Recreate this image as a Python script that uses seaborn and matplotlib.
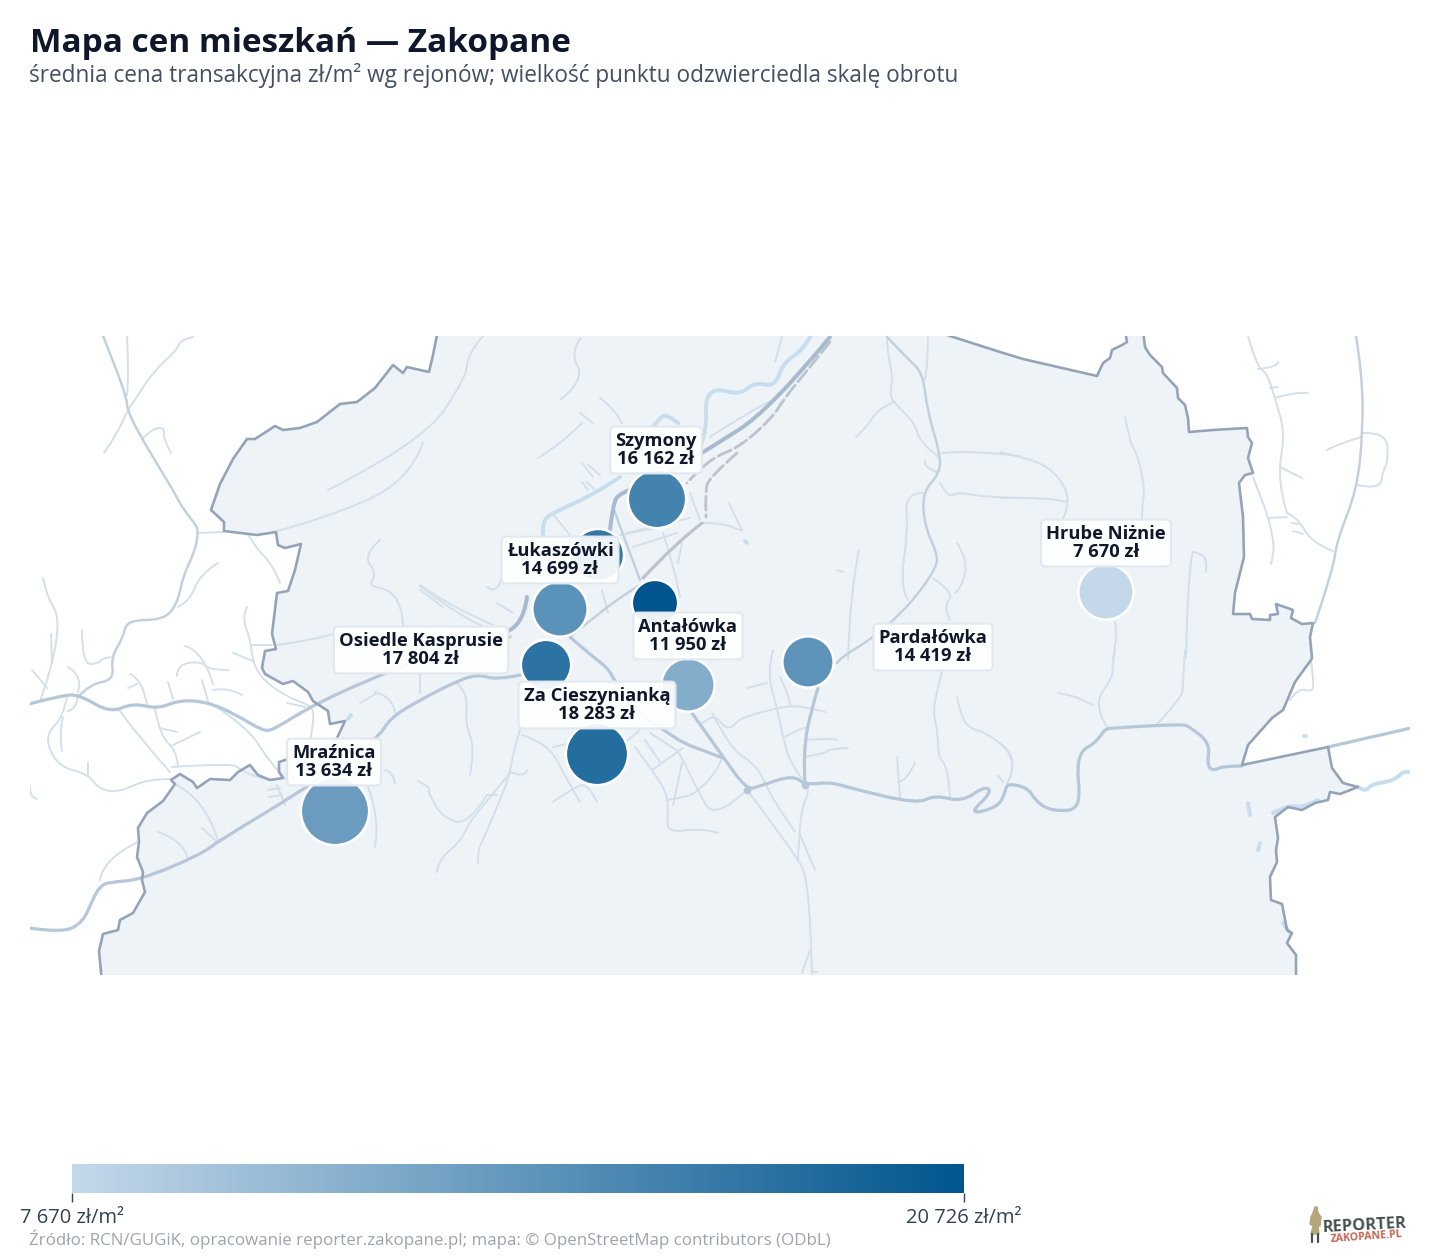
import matplotlib
matplotlib.use("Agg")
import matplotlib.pyplot as plt
from matplotlib.colors import LinearSegmentedColormap, Normalize
from matplotlib.colorbar import ColorbarBase
from matplotlib.path import Path
from matplotlib.patches import PathPatch
import pandas as pd
import seaborn as sns

sns.set_theme(style="white")
plt.rcParams['font.family'] = ['Open Sans', 'DejaVu Sans']

# ---------- data ----------
rejony = ["Mraźnica", "Za Cieszynianką", "Szymony", "Łukaszówki", "Hrube Niżnie",
          "Pardałówka", "Antałówka", "Osiedle Kasprusie", "", ""]
ceny = [13634, 18283, 16162, 14699, 7670, 14419, 11950, 17804, 20726, 17200]
map_x = [335, 597, 657, 560, 1106, 808, 688, 546, 655, 598]
map_y = [811, 754, 499, 609, 592, 662, 685, 665, 603, 555]
obrot = [1170, 973, 853, 767, 767, 660, 713, 635, 538, 680]
etykiety_x = [334, 597, 656, 560, 1106, 933, 688, 421]
etykiety_y = [762, 705, 450, 560, 543, 647, 636, 650]
cena_min, cena_max = 7670, 20726

granica = [(438,330),(433,355),(429,372),(407,367),(403,373),(393,365),(375,388),(357,402),(340,404),(317,422),(300,428),(283,430),(275,426),(255,439),(247,439),(233,459),(220,484),(211,510),(224,522),(224,531),(257,535),(276,532),(278,545),(285,548),(301,544),(295,570),(288,591),(277,593),(272,634),(276,649),(265,651),(262,668),(265,674),(283,684),(293,681),(308,692),(313,701),(328,711),(330,724),(345,721),(337,738),(330,748),(300,755),(285,760),(279,762),(279,772),(283,778),(270,780),(258,775),(250,765),(238,772),(230,780),(210,779),(197,788),(193,782),(180,774),(171,780),(175,784),(163,801),(147,813),(138,828),(139,842),(137,857),(143,872),(142,880),(145,892),(133,913),(120,920),(118,930),(103,934),(99,951),(102,982),
          (1296,982),(1296,955),(1287,943),(1292,933),(1287,930),(1282,904),(1271,900),(1270,877),(1277,862),(1276,850),(1278,838),(1275,817),(1288,807),(1302,810),(1315,803),(1328,800),(1330,792),(1340,794),(1358,787),(1343,783),(1332,768),(1328,747),(1242,765),(1248,745),(1272,718),(1283,710),(1295,682),(1311,660),(1312,658),(1310,637),(1313,623),(1302,624),(1291,618),(1293,610),(1276,604),(1278,614),(1270,615),(1270,620),(1252,619),(1250,614),(1233,614),(1235,593),(1244,557),(1243,517),(1239,483),(1245,475),(1253,473),(1248,458),(1252,443),(1248,437),(1247,428),(1213,430),(1189,432),(1188,418),(1185,405),(1178,398),(1177,388),(1163,373),(1162,367),(1150,355),(1145,347),(1143,330),
          (1125,330),(1127,342),(1122,345),(1112,350),(1110,358),(1103,363),(1097,376),(1023,359),(1000,352),(950,336),(935,330)]

drogi_krajowe = [
 [(830,337),(770,410),(707,450),(660,478),(620,493),(613,503),(610,530)],
 [(505,632),(523,627),(527,597)],
]
drogi_glowne = [
 [(29,704),(63,695),(80,695),(110,713),(133,703),(157,709),(180,700),(207,702),(233,713),(263,731),(273,730),(313,705),(373,678),(430,655),(495,638),(510,637)],
 [(29,928),(63,933),(83,922),(92,901),(100,886),(110,882),(140,880),(200,855),(220,840),(300,792),(377,740),(390,718),(420,700),(453,683),(477,674),(497,680),(520,675)],
 [(570,637),(593,657),(608,668),(615,682),(640,715),(667,732),(683,743),(707,752),(723,758)],
 [(692,713),(723,757),(747,790),(760,786),(793,775),(805,785),(830,782),(850,788),(917,804),(935,795),(962,802),(985,786),(992,792),(968,815),(998,807),(1005,793),(1007,783),(1028,788),(1035,800),(1047,809),(1063,811),(1075,809),(1080,797),(1077,767),(1082,750),(1092,745),(1100,737),(1105,729),(1112,728),(1182,724),(1190,727),(1210,743),(1207,765),(1213,771),(1223,766),(1242,766)],
 [(1328,747),(1411,728)],
 [(818,688),(812,707),(803,750),(805,783)],
]
drogi_srednie = [
 [(837,663),(840,658),(873,638),(910,605),(937,567),(937,553),(925,527),(922,493),(940,473),(940,453),(927,410),(923,373),(907,358),(887,337)],
 [(103,336),(127,395),(127,413),(163,474),(173,490),(183,509),(197,526),(198,534),(195,551),(183,576),(177,605),(163,620),(127,620),(123,638),(111,657),(114,680),(90,684),(78,697)],
 [(1356,336),(1362,373),(1363,430),(1357,490),(1337,540),(1333,570),(1315,623)],
 [(614,510),(640,580)],
 [(570,637),(603,610),(627,593),(643,583)],
]
drogi_male = [
 [(198,533),(223,532)],[(127,336),(129,376),(127,395)],
 [(193,337),(180,340),(178,349),(153,372),(137,397),(127,411),(117,434),(104,453)],
 [(142,439),(153,428),(165,428),(163,438),(171,453)],
 [(218,563),(200,574),(190,601),(178,607)],[(248,534),(255,547),(273,565),(280,583)],
 [(43,578),(47,597),(60,617),(52,668),(40,701)],[(51,634),(52,663)],[(32,670),(47,688)],
 [(82,630),(82,665),(100,663),(100,659),(111,657)],[(68,667),(83,676),(78,692)],
 [(67,697),(63,717),(48,732),(48,747),(60,767),(88,774),(100,790),(120,792),(147,779),(170,779)],
 [(63,717),(59,732),(62,751)],[(78,695),(77,709),(68,711)],[(88,763),(88,774)],
 [(120,711),(133,730),(170,772)],[(155,709),(160,736),(177,751),(178,767)],[(160,728),(177,732)],
 [(173,745),(200,732)],[(172,767),(233,763),(240,770),(260,778),(270,780)],
 [(130,674),(143,680),(147,705)],[(128,688),(137,684)],[(185,646),(203,651),(213,684)],
 [(177,676),(177,665),(200,661),(210,670),(228,670)],[(168,682),(173,699)],[(202,680),(208,701)],
 [(213,690),(228,687),(242,695)],
 [(247,607),(242,617),(250,638),(253,663),(263,680),(287,697),(310,705),(315,715),(310,742)],
 [(252,645),(272,645)],[(233,653),(253,661)],[(213,705),(247,726),(270,763),(287,780)],
 [(287,703),(305,707)],[(268,790),(280,788)],[(268,797),(282,795)],[(285,805),(277,785)],
 [(175,784),(205,799),(218,840)],[(158,832),(183,840),(188,859)],[(202,828),(217,842)],
 [(138,842),(103,859),(100,880)],[(30,786),(29,797),(37,799)],
 [(328,490),(423,442),(467,376),(467,355),(483,336)],
 [(277,531),(320,520),(410,482),(423,442)],
 [(380,540),(363,555),(377,574),(368,586),(392,590),(403,613),(403,626)],
 [(277,645),(313,640),(333,634)],[(420,586),(463,620),(500,634)],[(420,590),(443,607)],
 [(375,692),(393,697),(395,713)],[(360,703),(377,693)],[(420,675),(420,693)],
 [(457,683),(468,693),(465,723),(475,748),(470,775)],[(385,770),(393,772),(395,783)],
 [(368,787),(380,818),(375,847)],
 [(418,781),(430,787),(428,793),(443,818),(468,825),(487,795)],
 [(510,773),(500,785),(477,813),(468,825),(460,842),(438,860),(437,872)],
 [(520,730),(513,753),(510,773),(503,793),(483,840),(478,850),(478,863)],
 [(487,795),(497,795)],[(510,772),(525,778),(527,770)],
 [(522,735),(548,743),(567,780),(580,802)],[(553,802),(573,788),(588,783),(597,802)],[(553,747),(567,744)],
 [(628,740),(640,730)],
 [(635,747),(652,770),(667,793),(668,813),(667,833),(702,828),(718,833)],
 [(650,733),(672,747),(680,753),(697,790),(715,820),(747,790)],
 [(652,770),(683,748)],[(645,740),(660,762)],[(682,763),(673,805)],
 [(667,800),(680,798),(697,793),(720,767),(722,757)],
 [(700,725),(713,713),(725,728),(733,727),(740,718),(777,708),(800,705),(825,712)],
 [(712,713),(730,748),(753,763),(763,778),(773,800),(795,832)],
 [(747,688),(767,683)],[(773,650),(767,673),(777,707),(785,747),(793,767),(803,780)],
 [(780,677),(790,697),(790,705)],[(785,737),(802,727),(807,728)],[(805,740),(830,738),(837,740)],
 [(805,757),(827,753),(828,749),(848,748)],
 [(807,785),(809,793),(802,807),(799,837),(798,860)],
 [(747,790),(795,853),(810,883),(812,975)],[(810,950),(802,973)],[(800,835),(815,870)],[(812,972),(818,972)],
 [(942,672),(937,690),(933,713),(938,733),(938,757),(948,767),(950,797)],
 [(897,757),(900,798)],[(898,782),(908,780),(915,762)],
 [(957,697),(960,712),(968,728),(985,732),(1012,752),(1013,773),(1007,783)],[(998,775),(1003,782)],
 [(1115,650),(1112,667),(1113,677),(1093,705),(1107,727)],[(1058,693),(1070,695),(1083,700),(1093,705)],
 [(1185,650),(1183,683),(1182,698),(1157,724)],[(1000,743),(1012,753),(1012,778),(1007,783)],
 [(1125,417),(1130,443),(1137,453),(1145,488),(1142,507),(1142,518)],
 [(1000,452),(1010,454),(1048,465),(1068,490),(1067,512),(1063,518)],
 [(1000,498),(1050,497),(1067,502)],[(1115,622),(1118,633),(1113,658)],
 [(1193,552),(1203,554),(1207,563),(1206,572)],[(1193,552),(1188,567),(1186,658)],
 [(1248,336),(1257,367),(1267,373),(1275,398),(1285,433),(1279,467),(1282,497),(1287,513)],
 [(1258,369),(1278,367),(1278,362)],[(1270,388),(1278,387)],[(1275,398),(1295,392),(1308,393)],
 [(1280,467),(1302,478)],[(1253,477),(1263,503),(1268,517),(1273,538),(1274,553),(1271,564)],
 [(1268,518),(1287,517)],[(1287,513),(1297,517),(1312,543),(1333,551)],[(1292,523),(1298,524)],[(1293,531),(1303,534)],
 [(1327,450),(1340,443),(1362,437)],[(1363,433),(1387,432),(1388,463),(1383,470),(1380,490),(1357,485)],
 [(1311,660),(1314,683),(1312,692),(1298,688),(1290,700)],
 [(887,337),(887,350),(893,377),(890,393),(893,402),(915,423),(920,443),(940,458)],
 [(893,402),(877,410),(867,427),(856,437)],[(928,337),(928,363),(925,380)],
 [(942,453),(970,450),(1020,456)],[(940,483),(948,498),(958,492),(983,497),(1020,498)],
 [(923,493),(905,493),(908,530),(900,587),(908,600)],[(925,460),(923,467),(937,472)],
 [(933,578),(955,593),(943,607),(950,620)],[(957,543),(968,560),(962,587),(955,593)],
 [(859,550),(850,593),(848,660)],[(837,570),(843,572)],
 [(729,503),(740,527),(744,532),(723,523),(702,523)],[(690,493),(700,520)],
 [(627,533),(667,523),(690,518)],[(633,547),(677,533)],[(663,533),(675,570),(680,597)],[(682,543),(678,563)],
 [(775,362),(782,337)],[(772,400),(740,417),(710,437)],
 [(538,458),(560,445),(582,423)],[(582,463),(593,477)],[(587,482),(595,490)],[(552,513),(570,535)],
 [(620,535),(657,528)],[(602,590),(608,613)],[(580,413),(593,423)],[(588,465),(600,475)],[(582,482),(588,490)],
 [(487,587),(500,597),(503,567)],[(497,603),(513,613)],[(420,585),(453,608),(493,625)],
 [(600,398),(613,407),(622,423)],[(581,338),(570,352),(585,380),(560,400)],
]
rzeki = [
 [(810,337),(803,350),(783,363),(775,387),(755,382),(740,395),(715,388),(705,400),(707,427),(700,450)],
 [(678,423),(668,415),(660,417),(653,427)],
 [(620,477),(593,495),(552,513),(542,522),(543,536)],
 [(1358,787),(1365,792),(1372,784),(1387,782),(1397,778),(1405,770),(1411,773)],
 [(1273,813),(1288,805),(1302,808),(1318,800)],[(1283,923),(1290,933)],
 [(1248,803),(1250,815)],[(1260,843),(1258,850)],[(1304,736),(1306,736)],[(745,541),(747,543)],[(348,719),(351,715)],
]
kolej = [
 [(830,342),(810,367),(783,400),(773,417),(740,447),(707,460),(687,483)],
 [(737,453),(710,477),(705,490),(706,517)],
]
kolej_ciagla = [[(702,523),(677,542),(643,578)]]
wezly_x, wezly_y = [747, 805], [790, 785]

# ---------- figure ----------
W, H = 1440, 1260
fig = plt.figure(figsize=(W/100, H/100), dpi=100, facecolor="white")
L, T, R, B = 30, 336, 1410, 975
ax = fig.add_axes([L/W, 1-B/H, (R-L)/W, (B-T)/H])
ax.set_xlim(L, R)
ax.set_ylim(B, T)
ax.axis("off")

ax.fill(*zip(*granica), facecolor="#eef3f8", edgecolor="none", zorder=1)
px = 0.72

def krzywa(pts):
    verts, codes = [pts[0]], [Path.MOVETO]
    for a, b in zip(pts[1:-1], pts[2:-1] + [None]):
        if b is None:
            verts += [a, pts[-1]]
        else:
            verts += [a, ((a[0]+b[0])/2, (a[1]+b[1])/2)]
        codes += [Path.CURVE3, Path.CURVE3]
    if len(pts) == 2:
        verts.append(pts[1]); codes.append(Path.LINETO)
    return Path(verts, codes)

def rysuj(linie, kolor, szer, z, **kw):
    for l in linie:
        ax.add_patch(PathPatch(krzywa(l), fill=False, edgecolor=kolor, lw=szer*px,
                               capstyle="round", joinstyle="round", zorder=z, **kw))

rysuj(rzeki, "#c8deee", 4.0, 2)
rysuj(drogi_male, "#d3dfea", 1.9, 3)
rysuj(drogi_srednie, "#c0d0df", 2.4, 3.2)
rysuj(drogi_glowne, "#b5c7d8", 3.2, 3.4)
rysuj(drogi_krajowe, "#a8bbce", 4.0, 3.5)
ax.plot(*zip(*granica), color="#94a3b8", lw=2.6*px, zorder=4, solid_joinstyle="round")
rysuj(kolej, "#bcc3cd", 2.8, 3.6, linestyle=(0, (5, 1.6)))
rysuj(kolej_ciagla, "#bcc3cd", 3.2, 3.6)
ax.scatter(wezly_x, wezly_y, s=30, color="#b5c7d8", zorder=3.5, linewidths=0)

cmap = LinearSegmentedColormap.from_list("ceny", ["#c4d8ea", "#00558e"])
norm = Normalize(cena_min, cena_max)
df = pd.DataFrame({"x": map_x, "y": map_y, "cena": ceny, "obrot": obrot})
sns.scatterplot(data=df, x="x", y="y", hue="cena", hue_norm=norm, palette=cmap,
                size="obrot", size_norm=(400, 1600), sizes=(400*2.0736, 1600*2.0736),
                edgecolor="white", linewidth=2.6*px, legend=False, ax=ax, zorder=5, clip_on=False)
ax.set_xlabel(""); ax.set_ylabel("")
ax.set_xlim(L, R); ax.set_ylim(B, T)

def fmt(v):
    return f"{v:,}".replace(",", " ")
for nazwa, cena, ex, ey in zip(rejony, ceny, etykiety_x, etykiety_y):
    ax.text(ex, ey, f"{nazwa}\n{fmt(cena)} zł", ha="center", va="center", fontsize=13.2,
            fontweight=700, color="#0f172a", linespacing=1.04, zorder=6,
            bbox=dict(boxstyle="round,pad=0.28,rounding_size=0.25", facecolor=(1, 1, 1, 0.92),
                      edgecolor="#e2e8f0", linewidth=1.5))

fig.text(30/W, 1-52/H, "Mapa cen mieszkań — Zakopane", fontsize=24, fontweight=700,
         color="#0f172a", ha="left", va="baseline")
fig.text(29/W, 1-82/H, "średnia cena transakcyjna zł/m² wg rejonów; wielkość punktu odzwierciedla skalę obrotu",
         fontsize=16.32, color="#434f63", ha="left", va="baseline")

cax = fig.add_axes([72/W, 1-1193/H, (964-72)/W, 29/H])
cb = ColorbarBase(cax, cmap=cmap, norm=norm, orientation="horizontal")
cb.outline.set_visible(False)
cb.set_ticks([cena_min, cena_max])
cb.set_ticklabels([f"{fmt(cena_min)} zł/m²", f"{fmt(cena_max)} zł/m²"])
cax.tick_params(axis="x", length=6.5, width=1, color="#334155", labelsize=14.5,
                labelcolor="#334155", pad=4, bottom=True)
cax.minorticks_off()

fig.text(29/W, 1-1245/H, "Źródło: RCN/GUGiK, opracowanie reporter.zakopane.pl; mapa: © OpenStreetMap contributors (ODbL)",
         fontsize=12.18, color="#9ca3af", ha="left", va="baseline")

# logo
fig.text(1323/W, 1-1232/H, "REPORTER", fontsize=11.8, fontweight=700, color="#46504e",
         ha="left", va="baseline", rotation=3, rotation_mode="anchor")
fig.text(1331/W, 1-1242/H, "ZAKOPANE.PL", fontsize=7.6, fontweight=700, color="#c8604c",
         ha="left", va="baseline", rotation=4, rotation_mode="anchor")
lax = fig.add_axes([1306/W, 1-1244/H, 18/W, 38/H])
lax.set_xlim(0, 18); lax.set_ylim(38, 0); lax.axis("off")
lax.fill([9, 11, 12, 15, 14, 12, 13, 5, 7, 4, 5, 7], [1, 1, 7, 11, 20, 20, 28, 28, 20, 18, 11, 7], color="#b5a57a")
lax.plot([6, 6], [28, 36], color="#46504e", lw=1.6)
lax.plot([12, 12], [28, 36], color="#46504e", lw=1.6)

fig.savefig("out.png", dpi=100, facecolor="white")
